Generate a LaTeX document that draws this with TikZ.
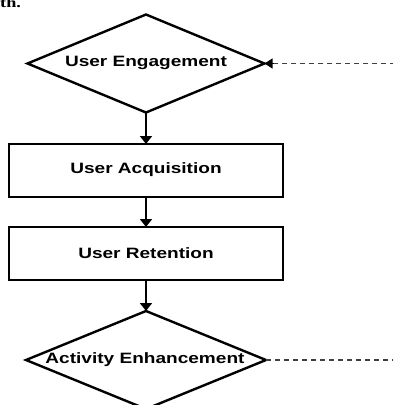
\documentclass[tikz,border=0pt]{standalone}
\usepackage{fontspec}
\setmainfont{Liberation Serif}
\newfontfamily\boxfont[FakeStretch=1.27]{Liberation Sans Bold}
\newfontfamily\fragfont[FakeStretch=1.3]{Liberation Serif Bold}
\usetikzlibrary{shapes.geometric,arrows.meta}
\begin{document}
\begin{tikzpicture}[x=1pt,y=-1pt,
  lbl/.style={font=\boxfont\fontsize{15}{18}\selectfont, inner sep=0pt},
  decision/.style={diamond, draw, line width=2.4pt, inner sep=0pt, outer sep=0pt, minimum width=#1, minimum height=98pt},
  procbox/.style={rectangle, draw, line width=2.4pt, inner sep=0pt, outer sep=0pt, minimum width=274pt, minimum height=53pt},
  flow/.style={line width=1.8pt, -{Triangle[length=8pt,width=12pt]}},
  loopline/.style={line width=1.4pt, draw=black!75, dash pattern=on 5pt off 4pt},
]
\useasboundingbox (0,0) rectangle (393,405);
\node[anchor=base west, font=\fragfont\fontsize{14}{16}\selectfont, inner sep=0pt] (frag) at (0,7) {th.};

\node[decision=237pt] (ue) at (146,63.5) {};
\node[lbl] (uet) at (146,62.5) {User Engagement};
\node[procbox] (acq) at (146,170.5) {};
\node[lbl] (acqt) at (146,170) {User Acquisition};
\node[procbox] (ret) at (146,253.5) {};
\node[lbl] (rett) at (146,253) {User Retention};
\node[decision=240pt] (ae) at (146,360) {};
\node[lbl] (aet) at (145,360) {Activity Enhancement};

\coordinate (c1) at (393.9,360);
\coordinate (c2) at (393.9,63.5);

\draw[flow] (ue.south) -- (acq.north);
\draw[flow] (acq.south) -- (ret.north);
\draw[flow] (ret.south) -- (ae.north);
\draw[loopline] (ae.east) -- (c1) -- (c2) -- (ue.east);
\draw[line width=1.2pt, draw=black, -{Triangle[length=8pt,width=10pt]}] ([xshift=9pt]ue.east) -- (ue.east);
\end{tikzpicture}
\end{document}
